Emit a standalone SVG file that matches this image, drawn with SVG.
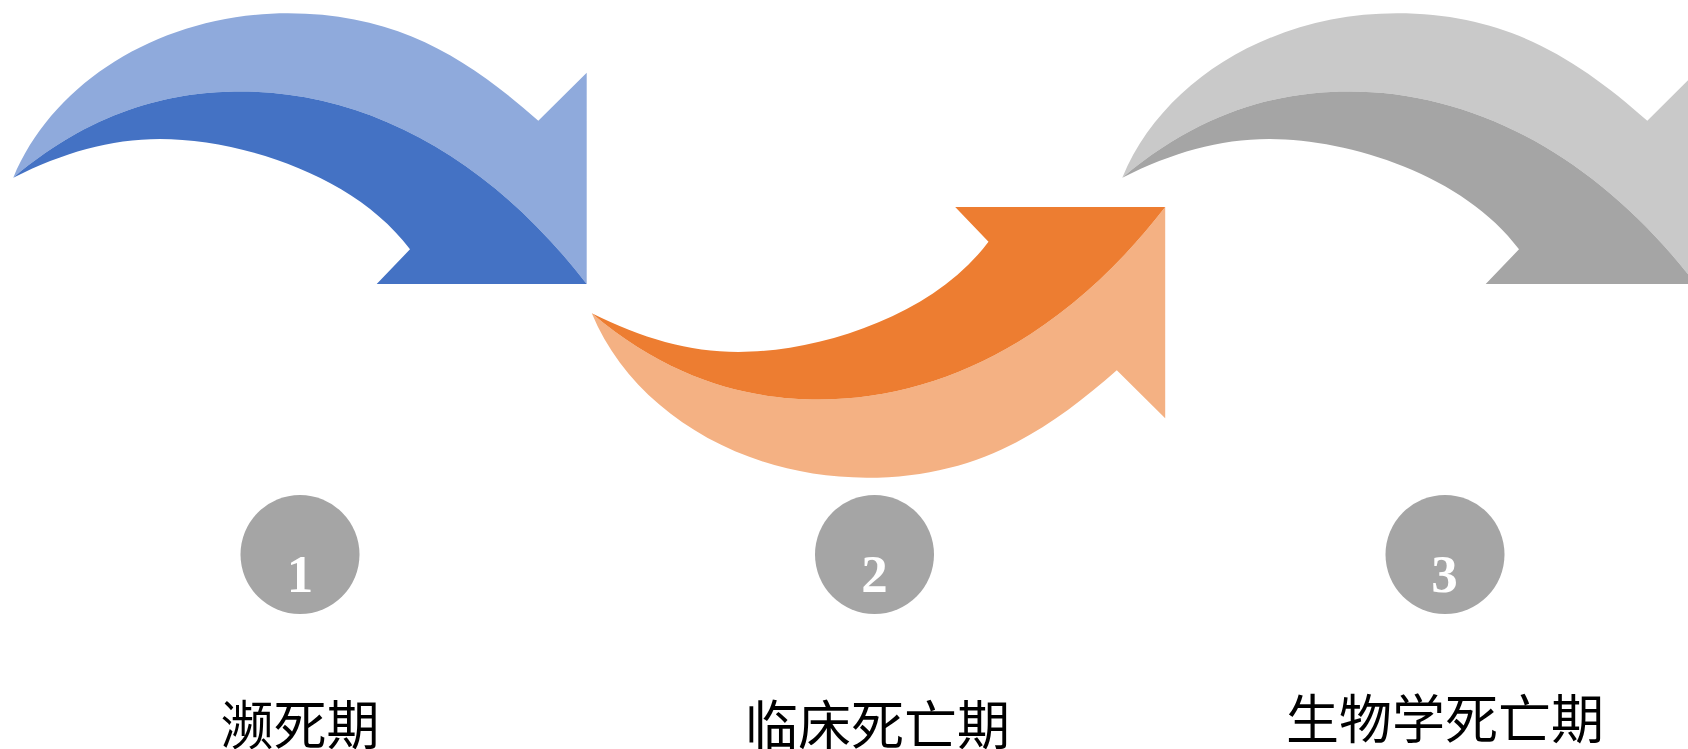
<svg xmlns="http://www.w3.org/2000/svg" xmlns:xlink="http://www.w3.org/1999/xlink" width="1688" height="749" viewBox="0 0 1688 749">
  <style>
    .num { font-family: "Liberation Serif", "Times New Roman", serif; font-weight: bold; font-size: 53px; fill: #FFFFFF; text-anchor: middle; }
    .lbl { font-family: "Noto Sans CJK SC", "Noto Sans", sans-serif; font-size: 53px; fill: #000000; text-anchor: middle; }
    .badge { fill: #A5A5A5; }
  </style>
  <defs>
    <path id="arrowLight" d="M13.3,177.7 C54,79.4 164.3,13.3 288,13.3 C398,13.3 468.3,59.1 538.3,120.7 L586.7,72.7 L586.7,284 C491.7,160.5 370,91.5 240,91.5 C180,91.5 98.3,105.5 13.3,177.7 Z"/>
    <path id="arrowDark" d="M13.3,177.7 C98.3,105.5 180,91.5 240,91.5 C370,91.5 491.7,160.5 586.7,284 L376.7,284 L410,249.3 C355,175 240,139 160,139 C110,139 63.3,152.7 13.3,177.7 Z"/>
  </defs>
  <rect width="1688" height="749" fill="#FFFFFF"/>
  <g id="connectors">
    <g id="arrow-blue">
      <use xlink:href="#arrowLight" href="#arrowLight" fill="#8FAADC"/>
      <use xlink:href="#arrowDark" href="#arrowDark" fill="#4472C4"/>
    </g>
    <g id="arrow-orange" transform="matrix(1 0 0 -1 578.5 491)">
      <use xlink:href="#arrowLight" href="#arrowLight" fill="#F4B183"/>
      <use xlink:href="#arrowDark" href="#arrowDark" fill="#ED7D31"/>
    </g>
    <g id="arrow-gray" transform="translate(1109 0)">
      <use xlink:href="#arrowLight" href="#arrowLight" fill="#C9C9C9"/>
      <use xlink:href="#arrowDark" href="#arrowDark" fill="#A5A5A5"/>
    </g>
  </g>
  <g id="node-1">
    <circle class="badge" cx="300" cy="554.5" r="59.5"/>
    <text class="num" x="300" y="592">1</text>
    <text class="lbl" x="300" y="745">濒死期</text>
  </g>
  <g id="node-2">
    <circle class="badge" cx="874.5" cy="554.5" r="59.5"/>
    <text class="num" x="874.5" y="592">2</text>
    <text class="lbl" x="877.5" y="745">临床死亡期</text>
  </g>
  <g id="node-3">
    <circle class="badge" cx="1445" cy="554.5" r="59.5"/>
    <text class="num" x="1444.5" y="592">3</text>
    <text class="lbl" x="1445" y="739">生物学死亡期</text>
  </g>
</svg>
